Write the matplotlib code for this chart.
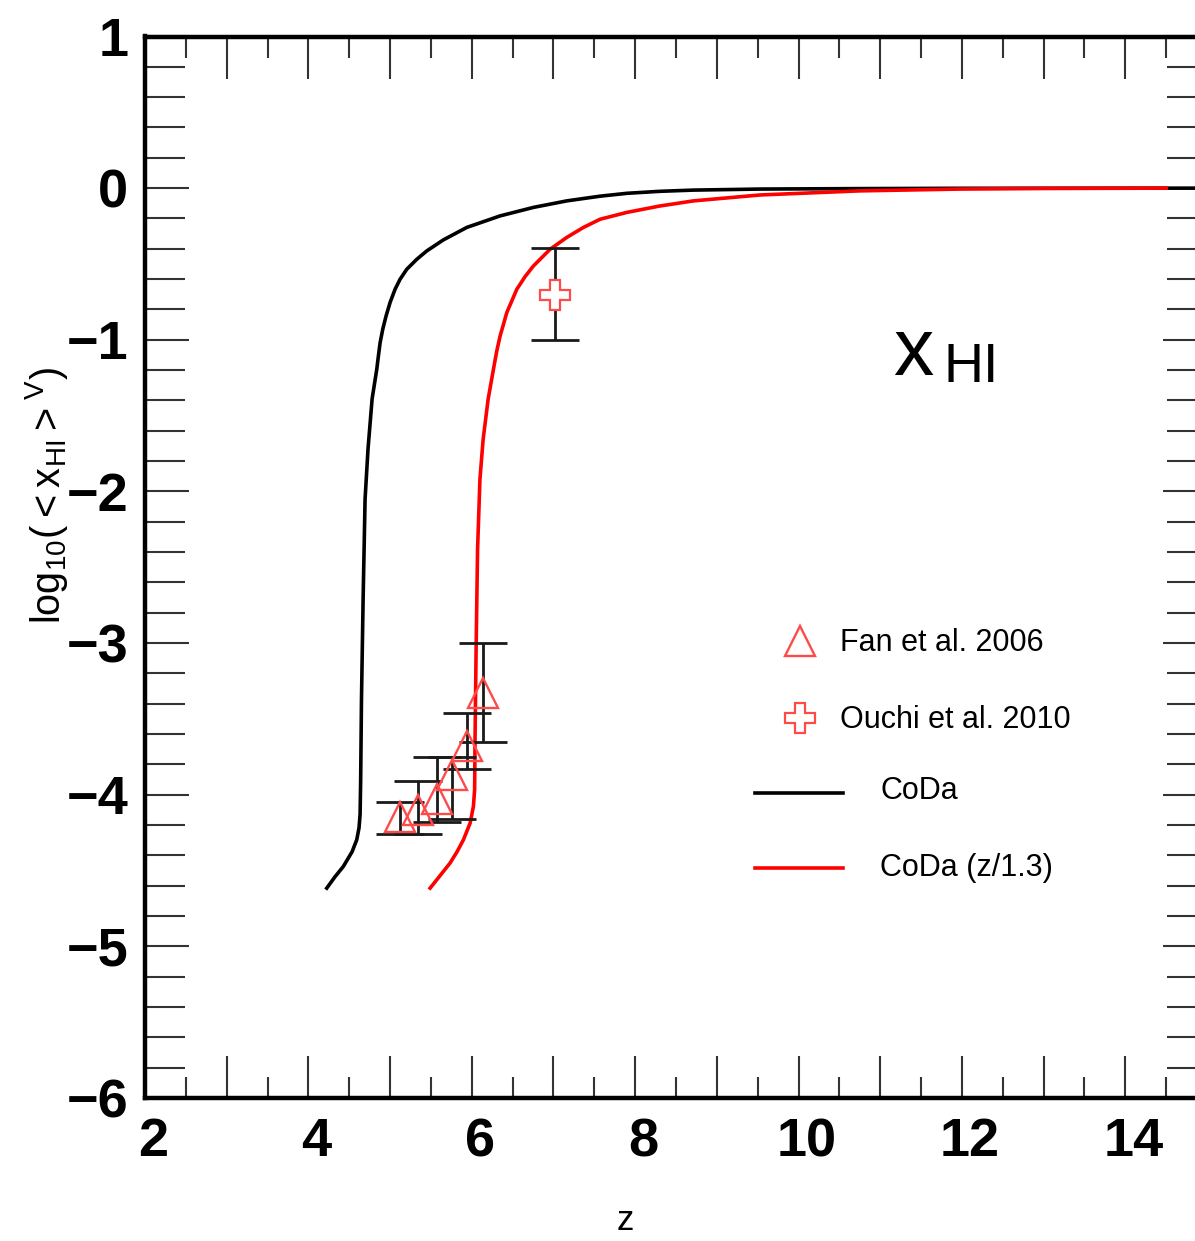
import numpy as np
import matplotlib
matplotlib.use("Agg")
from matplotlib import pyplot as plt
from matplotlib.transforms import ScaledTranslation

plt.rcParams['font.family'] = ['Liberation Sans', 'DejaVu Sans']
plt.rcParams['mathtext.default'] = 'regular'

# CoDa neutral fraction curve
coda_z = [4.225, 4.326, 4.428, 4.535, 4.592, 4.62, 4.633, 4.64, 4.65, 4.67, 4.694, 4.73, 4.78,
          4.837, 4.857, 4.878, 4.91, 4.951, 5.0, 5.061, 5.122, 5.204, 5.327, 5.449, 5.653,
          5.939, 6.347, 6.755, 7.163, 7.571, 7.9, 8.3, 8.71, 9.53, 10.75, 12.0, 15.0]
coda_y = [-4.616, -4.541, -4.473, -4.376, -4.297, -4.218, -4.13, -3.90, -3.37, -2.71, -2.05, -1.72, -1.39,
          -1.195, -1.107, -1.019, -0.931, -0.843, -0.754, -0.667, -0.601, -0.535, -0.469, -0.414, -0.341,
          -0.259, -0.183, -0.127, -0.084, -0.053, -0.034, -0.021, -0.013, -0.006, -0.003, -0.001, 0.0]

# CoDa with z/1.3
coda13_z = [5.49, 5.61, 5.735, 5.82, 5.898, 5.98, 6.02, 6.035, 6.04, 6.053, 6.071, 6.10, 6.139, 6.20,
            6.265, 6.306, 6.347, 6.388, 6.429, 6.49, 6.551, 6.653, 6.755, 6.959, 7.163, 7.367,
            7.571, 7.898, 8.3, 8.714, 9.53, 10.75, 11.98, 13.0, 14.5]
coda13_y = [-4.616, -4.535, -4.45, -4.376, -4.297, -4.187, -4.077, -3.967, -3.637, -3.043, -2.383, -1.92,
            -1.657, -1.393, -1.195, -1.074, -0.975, -0.898, -0.82, -0.744, -0.667, -0.583, -0.513, -0.403,
            -0.325, -0.259, -0.205, -0.16, -0.118, -0.084, -0.045, -0.018, -0.006, -0.002, 0.0]

# Fan et al. 2006
fan_z = [5.12, 5.34, 5.57, 5.76, 5.94, 6.14]
fan_y = [-4.15, -4.10, -4.03, -3.87, -3.68, -3.33]
fan_hi = [-4.05, -3.91, -3.75, -3.75, -3.46, -3.00]
fan_lo = [-4.26, -4.26, -4.18, -4.16, -3.83, -3.65]

# Ouchi et al. 2010
ouchi_z = [7.02]
ouchi_y = [-0.706]
ouchi_hi = [-0.396]
ouchi_lo = [-1.0]

W, H = 1195, 1241
fig = plt.figure(figsize=(W / 100, H / 100), dpi=100)
# axis runs to z=15, which falls just outside the right edge of the image
ax = fig.add_axes([145 / W, 1 - 1098 / H, 1062 / W, (1098 - 36.5) / H])


def fpos(px, py):
    return px / W, 1 - py / H


ax.plot(coda_z, coda_y, color='black', lw=2.6, zorder=2, solid_joinstyle='round')
ax.plot(coda13_z, coda13_y, color='#ff0000', lw=2.6, zorder=2, solid_joinstyle='round')

fan_err = [np.array(fan_y) - np.array(fan_lo), np.array(fan_hi) - np.array(fan_y)]
ax.errorbar(fan_z, fan_y, yerr=fan_err, fmt='none', ecolor='#1a1a1a', elinewidth=2.0,
            capsize=17, capthick=2.0, zorder=3)
ax.plot(fan_z, fan_y, linestyle='none', marker='^', markersize=22, mfc='none',
        mec='#ff4a4a', mew=1.7, zorder=4)

ouchi_err = [np.array(ouchi_y) - np.array(ouchi_lo), np.array(ouchi_hi) - np.array(ouchi_y)]
ax.errorbar(ouchi_z, ouchi_y, yerr=ouchi_err, fmt='none', ecolor='#1a1a1a', elinewidth=2.0,
            capsize=17, capthick=2.0, zorder=3)
ax.plot(ouchi_z, ouchi_y, linestyle='none', marker='P', markersize=22, mfc='white',
        mec='#ff4a4a', mew=1.6, zorder=4)

ax.set_xlim(2, 15)
ax.set_ylim(-6, 1)
ax.set_xticks(np.arange(2, 16, 1))
ax.set_xticklabels([str(v) if v % 2 == 0 else '' for v in range(2, 16)])
ax.set_xticks(np.arange(2.5, 15, 1), minor=True)
ax.set_yticks(np.arange(-6, 2, 1))
ax.set_yticklabels(['\u22126', '\u22125', '\u22124', '\u22123', '\u22122', '\u22121', '0', '1'])
ax.set_yticks([v for v in np.arange(-6, 1.01, 0.2) if abs(v - round(v)) > 1e-6], minor=True)

ax.tick_params(axis='x', which='major', direction='in', length=30, width=1.5, top=True,
               labelsize=39, pad=14, color='#333333')
ax.tick_params(axis='x', which='minor', direction='in', length=15, width=1.5, top=True,
               color='#333333')
ax.tick_params(axis='y', which='major', direction='in', length=32, width=1.5, right=True,
               labelsize=39, pad=12, color='#333333')
ax.tick_params(axis='y', which='minor', direction='in', length=28.5, width=1.5, right=True,
               color='#333333')
for lab in ax.get_xticklabels() + ax.get_yticklabels():
    lab.set_fontweight('bold')
for lab in ax.get_xticklabels():
    lab.set_transform(lab.get_transform() + ScaledTranslation(8 / 100, 0, fig.dpi_scale_trans))
for sp in ax.spines.values():
    sp.set_linewidth(3.2)

fig.text(*fpos(625, 1220), 'z', fontsize=25, ha='center', va='center')
fig.text(*fpos(47, 495), r'$log_{10}(< x_{HI} >^{V})$', fontsize=28.5, rotation=90,
         ha='center', va='center')

# x_HI label inside the plot
fig.text(*fpos(893, 375), 'x', fontsize=58, ha='left', va='baseline')
fig.text(*fpos(943, 382), 'HI', fontsize=40, ha='left', va='baseline')

# legend
fig.lines.append(plt.Line2D([fpos(800, 641)[0]], [fpos(800, 641)[1]], marker='^', markersize=22,
                            mfc='none', mec='#ff4a4a', mew=1.7, transform=fig.transFigure))
fig.lines.append(plt.Line2D([fpos(800, 718)[0]], [fpos(800, 718)[1]], marker='P', markersize=22,
                            mfc='white', mec='#ff4a4a', mew=1.6, transform=fig.transFigure))
x0, y0 = fpos(755, 793)
x1, _ = fpos(843, 793)
fig.lines.append(plt.Line2D([x0, x1], [y0, y0], color='black', lw=2.6, transform=fig.transFigure))
x0, y0 = fpos(755, 868)
fig.lines.append(plt.Line2D([x0, x1], [y0, y0], color='#ff0000', lw=2.6, transform=fig.transFigure))
fig.text(*fpos(840, 643), 'Fan et al. 2006', fontsize=22, ha='left', va='center')
fig.text(*fpos(840, 720), 'Ouchi et al. 2010', fontsize=22, ha='left', va='center')
fig.text(*fpos(880, 791), 'CoDa', fontsize=22, ha='left', va='center')
fig.text(*fpos(880, 868), 'CoDa (z/1.3)', fontsize=22, ha='left', va='center')

fig.savefig('out.png', dpi=100)
